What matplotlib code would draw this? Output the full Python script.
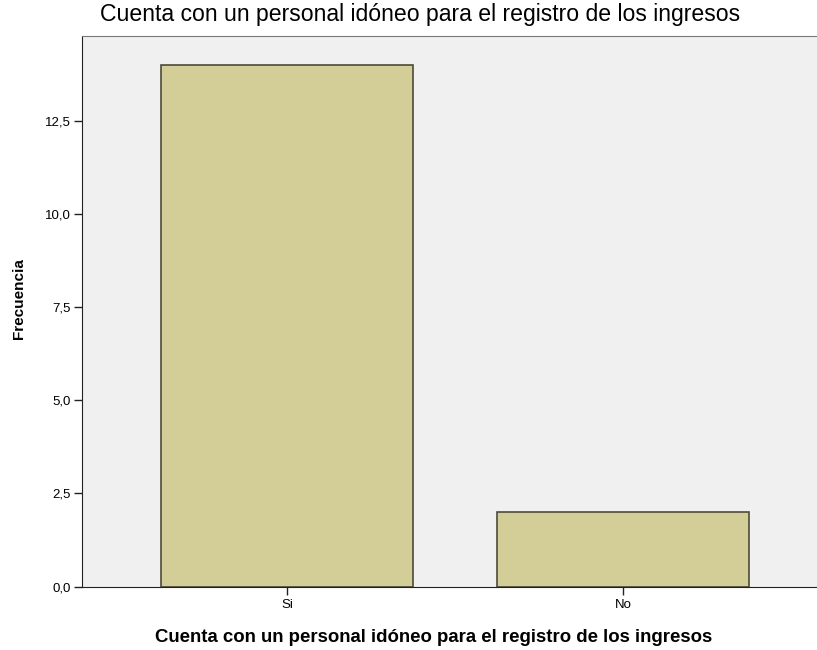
import matplotlib
matplotlib.use("Agg")
import matplotlib.pyplot as plt

categories = ["Si", "No"]
frecuencia = [14, 2]
yticks = [0, 2.5, 5, 7.5, 10, 12.5]
ytick_labels = ["0,0", "2,5", "5,0", "7,5", "10,0", "12,5"]

titulo = "Cuenta con un personal idóneo para el registro de los ingresos"

plt.rcParams['font.family'] = ['Liberation Sans', 'DejaVu Sans']

fig = plt.figure(figsize=(8.17, 6.5), dpi=100)
ax = fig.add_axes([0.1004, 0.0974, 0.8996, 0.8472])
ax.set_facecolor("#f0f0f0")

x = range(len(categories))
ax.bar(x, frecuencia, width=0.75, color="#d3ce97", edgecolor="#4d4b38", linewidth=1.2, zorder=2)

ax.set_xlim(-0.61, 1.577)
ax.set_ylim(0, 14.77)
ax.set_xticks(list(x))
ax.set_xticklabels(categories, fontsize=9.5)
ax.set_yticks(yticks)
ax.set_yticklabels(ytick_labels, fontsize=9.5)
ax.tick_params(axis='both', length=6, width=1, color="#222222", pad=2)
ax.tick_params(axis='x', pad=3)

ax.spines["right"].set_visible(False)
ax.spines["top"].set_color("#777777")
ax.spines["left"].set_color("#222222")
ax.spines["bottom"].set_color("#222222")

ax.set_ylabel("Frecuencia", fontsize=11, fontweight="bold")
ax.yaxis.set_label_coords(-0.076, 0.523)
ax.set_xlabel(titulo, fontsize=13.4, fontweight="bold")
ax.xaxis.set_label_coords(0.478, -0.077)
fig.text(0.514, 0.978, titulo, fontsize=16.6, ha="center", va="center")

fig.savefig("out.png", dpi=100)
